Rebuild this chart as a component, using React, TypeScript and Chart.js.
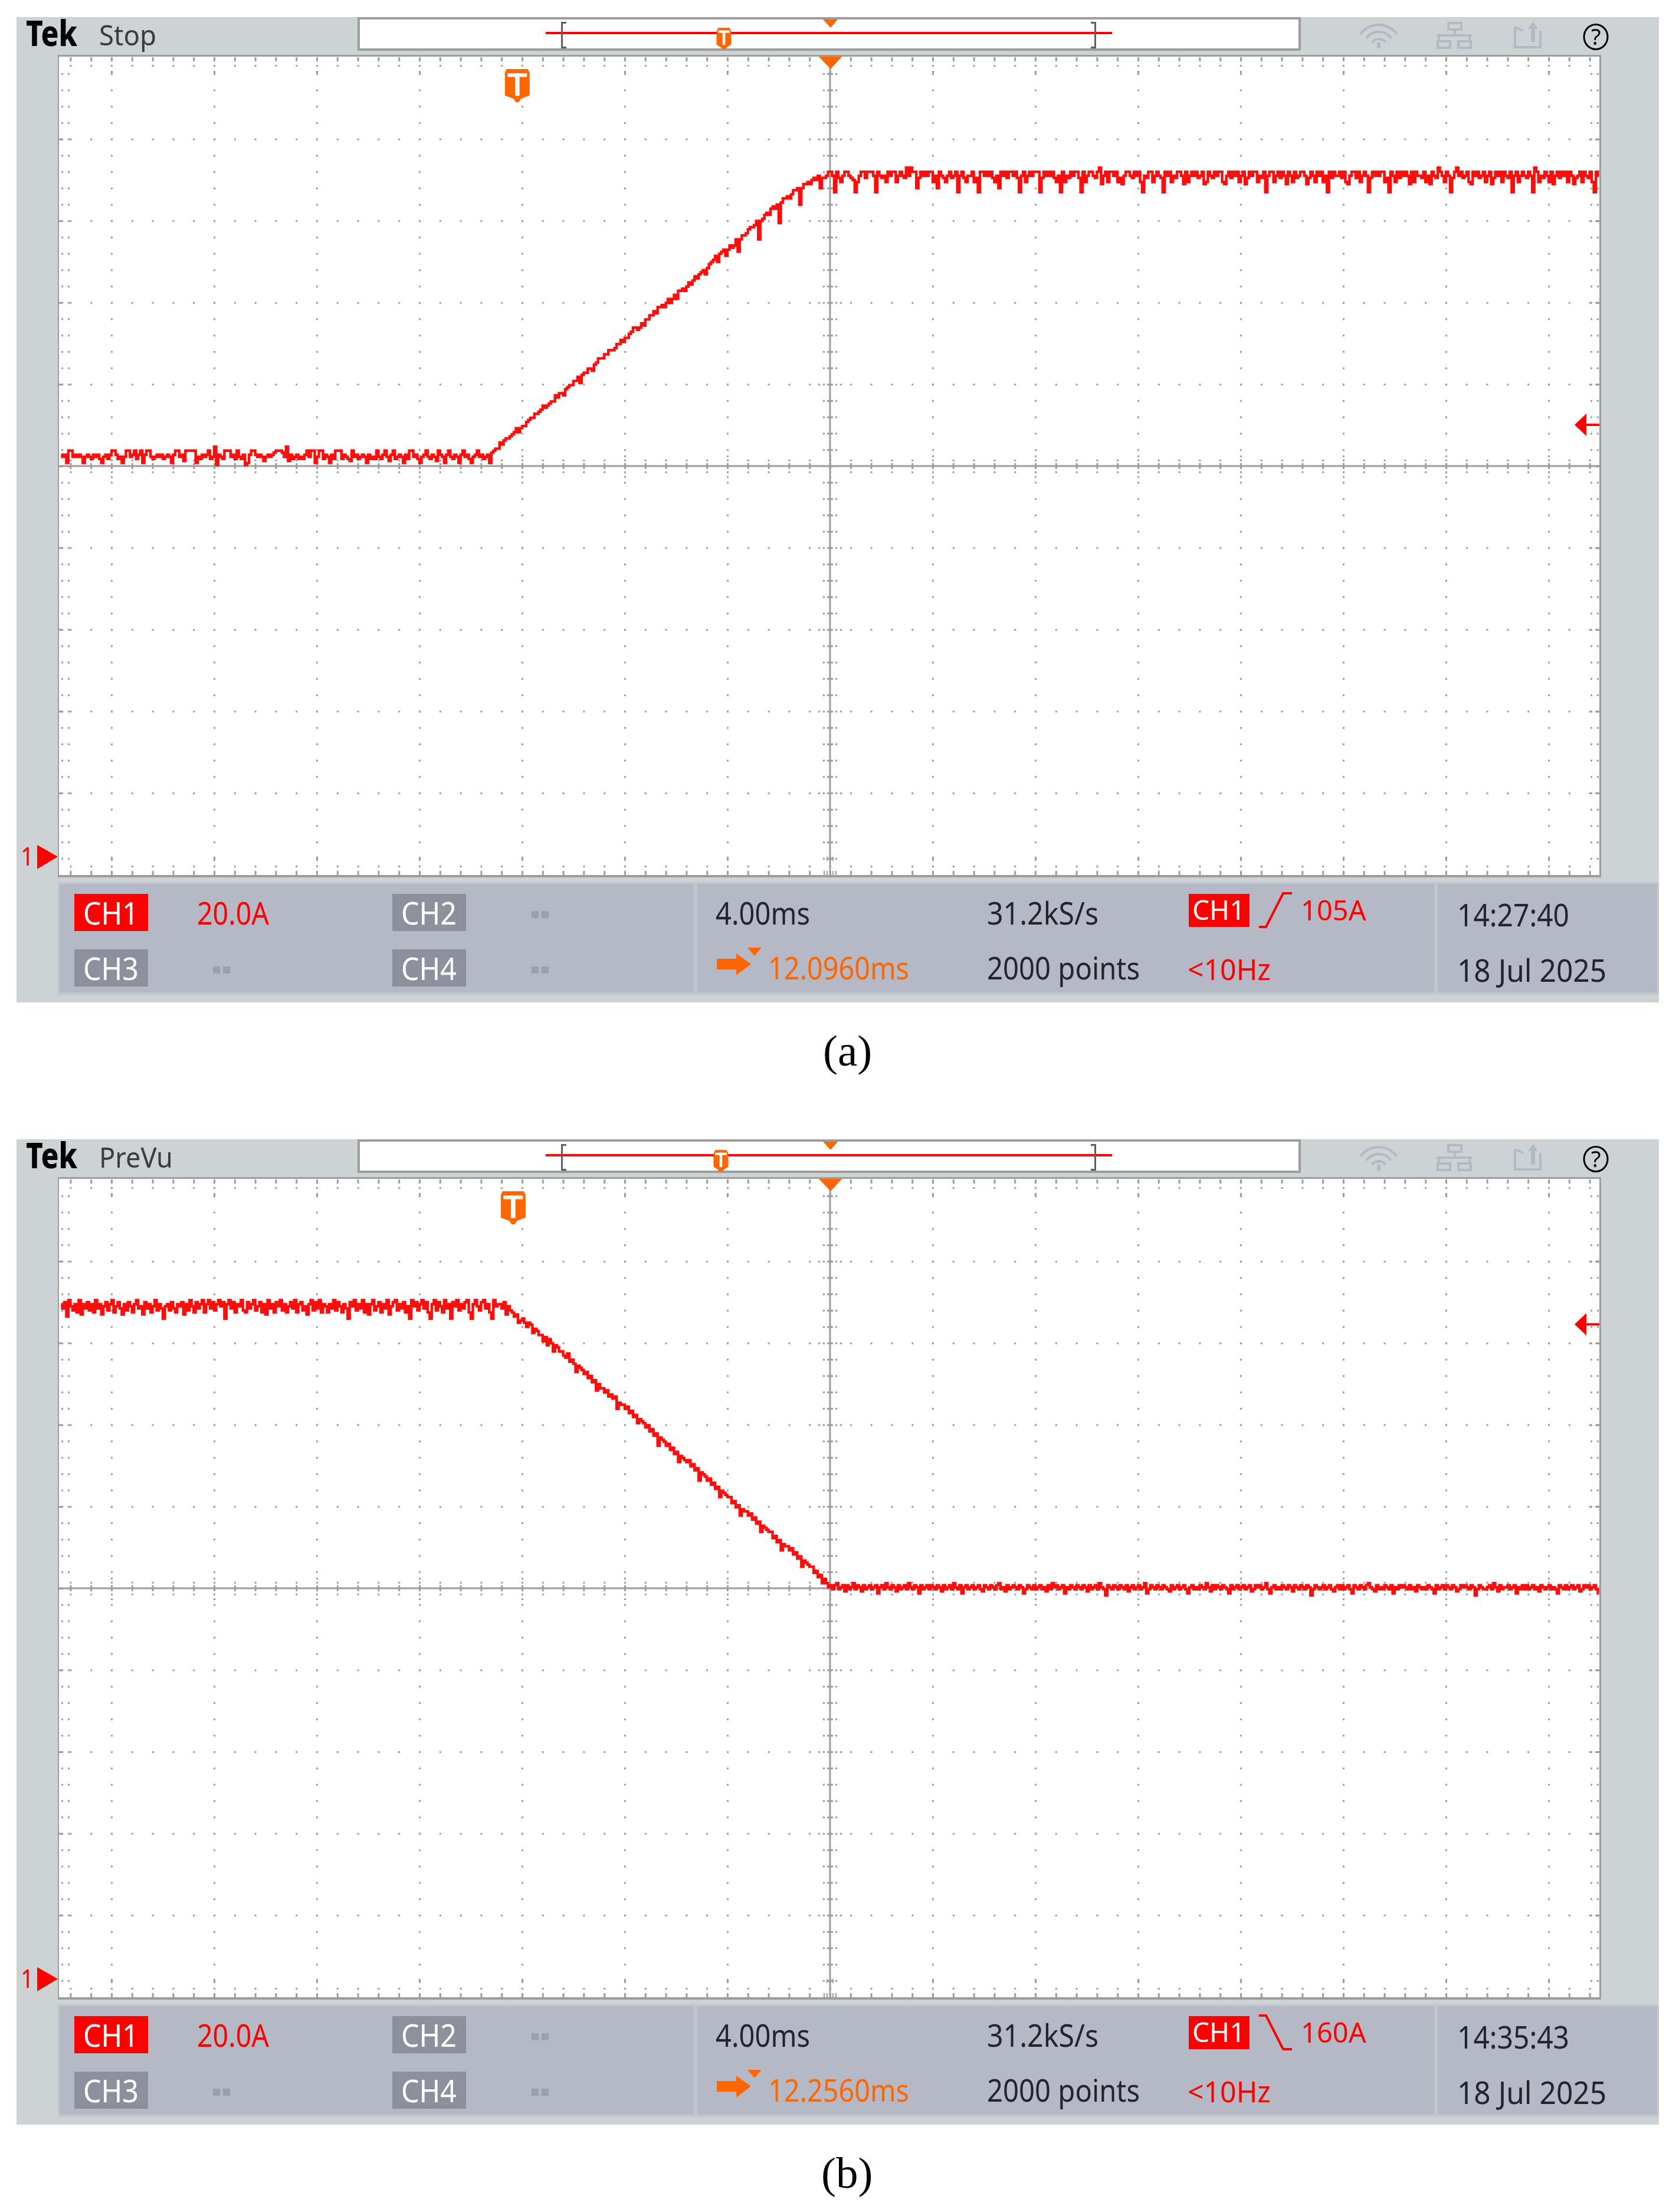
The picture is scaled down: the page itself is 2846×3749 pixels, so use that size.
import React, { useEffect, useRef } from "react";
import { Chart, registerables } from "chart.js";

Chart.register(...registerables);

// Trace values are screen rows of the scope: one row is 0.5 A, one column is 0.08 ms.
const ampsPerRow = 0.5;
const msPerColumn = 0.08;

const riseFlat = [
  196,195,196,192,198,198,195,196,195,196,
  195,192,195,196,195,194,196,195,196,194,
  192,195,196,194,196,198,198,196,194,195,
  192,195,198,198,195,196,198,194,196,198,
  192,196,198,198,195,194,195,196,195,196,
  194,195,196,195,192,196,198,198,195,196,
  193,198,198,198,198,198,192,195,194,196,
  195,196,198,194,195,200,191,196,195,194,
  198,198,198,195,196,194,198,195,194,196,
  191,192,196,198,198,196,195,196,195,193,
  195,196,195,196,197,198,198,198,197,195,
  200,193,196,194,195,196,194,195,194,196,
  198,195,198,198,192,195,198,198,194,196,
  195,192,196,194,198,198,198,194,196,195,
  194,193,198,195,196,194,195,196,195,192,
  196,194,195,194,198,195,194,196,198,195,
  193,196,198,194,195,196,195,192,196,194,
  198,198,195,196,194,192,195,196,198,195,
  194,196,195,193,198,196,195,192,196,198,
  195,194,196,195,192,196,198,195,196,194,
  192,195,196,198,195,196,194,195
];
const riseRamp = [
  196,192,197,198,199,199,202,201,203,204,
  204,205,206,207,209,207,209,210,210,212,
  213,214,214,216,216,217,218,220,219,220,
  221,222,222,225,224,226,226,225,228,229,
  230,230,232,232,234,231,235,236,236,238,
  238,237,240,241,243,243,243,245,245,247,
  247,247,248,250,250,252,251,253,253,255,
  256,258,258,257,258,260,259,262,262,264,
  264,266,265,268,268,269,268,270,272,270,
  272,274,272,276,276,277,276,278,280,279,
  281,283,282,284,285,286,284,287,289,290,
  291,293,290,294,295,296,293,296,298,297,
  298,301,295,301,303,303,304,306,307,307,
  308,310,301,310,311,313,314,313,316,317,
  316,318,309,319,321,321,322,321,323,325,
  325,326,318,326,328,328,329,328,330,331,
  330,332,326,331
];
const riseTop = [
  331,332,334,334,332,324,334,331,329,332,
  334,334,332,331,330,324,329,332,334,334,
  331,334,334,334,332,324,334,332,331,332,
  329,334,332,334,334,329,332,334,332,331,
  336,332,336,334,334,326,331,334,332,334,
  332,334,334,329,332,326,334,332,331,329,
  332,334,331,332,334,324,332,334,331,329,
  332,332,334,329,331,324,334,334,332,334,
  332,334,331,329,332,326,334,332,334,331,
  334,334,332,334,331,324,332,334,329,332,
  334,332,334,334,334,324,331,334,332,334,
  332,334,331,329,332,324,334,329,332,331,
  334,332,334,334,331,324,334,329,332,334,
  334,332,331,334,336,328,332,334,329,334,
  334,332,334,329,331,328,332,334,334,332,
  331,334,332,334,329,324,332,331,334,334,
  329,332,334,332,331,324,334,332,334,329,
  332,331,334,334,332,328,334,329,332,334,
  332,334,331,332,334,328,329,334,332,331,
  334,332,334,334,329,328,332,334,331,334,
  332,334,329,332,334,328,331,334,332,334,
  334,329,332,331,334,324,332,334,334,329,
  332,334,331,334,332,328,334,332,329,334,
  331,332,334,334,332,328,331,334,332,329,
  334,332,334,329,332,324,334,331,334,332,
  332,334,331,334,329,328,332,334,334,331,
  334,329,332,334,332,324,331,334,332,334,
  332,334,334,329,331,324,334,332,329,334,
  331,334,332,334,332,328,334,329,334,332,
  332,331,334,329,332,328,334,332,331,336,
  334,332,329,334,332,324,331,334,336,332,
  334,331,332,334,329,328,334,332,334,331,
  332,334,329,332,334,328,331,334,332,334,
  329,334,332,331,334,324,332,334,329,332,
  334,332,331,334,332,324,336,334,329,332,
  331,334,332,329,334,328,332,334,331,334,
  332,334,329,334,332,328,331,332,334,329,
  334,332,331,334,329,324,334,332
];

const fallTop = [
  329,327,330,323,331,328,326,329,325,331,
  324,329,327,330,326,329,325,331,327,329,
  324,328,330,326,329,331,325,328,330,327,
  324,329,326,330,328,325,329,331,327,328,
  324,330,327,329,325,328,331,326,329,327,
  322,328,329,326,330,327,325,329,328,330,
  324,329,326,331,328,325,330,327,329,331,
  325,329,331,327,330,326,329,331,328,330,
  322,329,331,327,330,325,329,328,331,326,
  325,330,327,329,331,326,328,330,325,329,
  324,331,327,329,325,330,328,331,326,329,
  325,328,330,327,331,325,329,330,326,328,
  324,329,331,326,330,327,331,325,329,328,
  325,329,327,331,326,330,328,325,329,327,
  322,330,328,331,326,329,327,331,325,329,
  324,329,331,326,328,330,325,329,327,331,
  324,328,330,331,326,329,327,330,325,328,
  322,331,328,330,326,329,331,327,330,325,
  322,329,331,326,330,328,325,331,327,329,
  322,330,328,331,326,329,327,330,331,325,
  322,329,331,328,326,330,331,327,329,325,
  322,331,328,329
];
const fallRamp = [
  329,327,330,324,328,326,325,323,324,320,
  321,322,320,318,320,319,315,317,316,314,
  314,311,313,309,312,310,306,309,308,306,
  306,304,303,305,301,302,300,296,299,298,
  297,295,296,293,294,291,292,287,290,288,
  288,286,287,284,285,283,284,278,281,280,
  280,278,279,276,277,274,275,271,273,272,
  271,269,270,267,268,265,266,260,264,263,
  262,260,261,258,259,256,257,252,255,254,
  253,252,253,250,251,248,249,243,247,246,
  245,243,244,241,242,239,240,235,238,237,
  236,235,235,232,233,230,231,226,229,228,
  228,226,227,224,225,222,223,218,221,220,
  219,218,218,215,216,213,214,209,212,211,
  211,209,210,207,208,205,206,201,204,203,
  202,201,201,198,199,196,197,193,195,193
];
const fallLow = [
  191,192,190,192,193,190,191,192,189,192,
  190,191,193,190,192,191,189,192,190,191,
  192,190,191,192,188,191,192,190,193,191,
  190,192,191,189,192,190,191,192,190,193,
  191,190,192,191,188,192,190,191,192,190,
  192,191,190,192,191,189,192,190,191,192,
  190,193,191,190,192,188,191,192,190,191,
  192,190,191,192,190,189,192,191,190,192,
  191,190,192,193,190,191,189,192,190,191,
  192,191,190,192,191,188,190,192,191,190,
  192,190,191,192,190,191,189,192,190,193,
  191,192,190,191,192,188,191,190,192,191,
  190,192,191,190,192,191,189,192,190,191,
  192,190,193,191,190,187,192,191,190,192,
  191,190,192,191,190,192,189,191,192,190,
  191,192,190,191,193,188,190,192,191,190,
  192,191,190,192,191,190,189,192,190,191,
  192,190,191,192,190,188,191,192,190,191,
  190,192,191,190,193,191,189,192,190,192,
  191,190,192,191,190,188,192,190,191,192,
  190,191,192,190,191,192,189,190,192,191,
  192,190,191,193,190,188,191,192,190,191,
  190,192,191,190,192,191,189,192,191,190,
  192,191,190,192,191,187,190,192,191,190,
  191,192,190,191,192,190,189,191,192,190,
  192,190,191,192,190,188,192,191,190,192,
  191,190,192,193,191,190,189,192,190,191,
  190,192,191,190,192,188,191,190,192,191,
  192,191,190,192,190,191,189,192,191,190,
  191,190,192,191,190,188,192,190,191,192,
  190,192,191,190,192,191,189,190,192,191,
  192,191,190,192,191,187,190,192,191,190,
  190,191,192,190,193,191,189,192,190,191,
  191,192,190,191,192,188,191,190,192,190,
  192,190,191,192,190,191,189,192,191,190,
  191,192,190,191,190,188,192,191,190,192,
  190,191,192,190,191,192,189,190,192,191,
  192,190,191,192,190,188
];

const riseTrace = [...riseFlat, ...riseRamp, ...riseTop];
const fallTrace = [...fallTop, ...fallRamp, ...fallLow];

// Acquisition readouts
const channelNames = ["CH1", "CH2", "CH3", "CH4"];
const scaleReadout = "20.0A";
const horizontalScale = "4.00ms";
const sampleRate = "31.2kS/s";
const recordLength = "2000 points";
const triggerFrequency = "<10Hz";
const brandLabel = "Tek";

const statusLabels = ["Stop", "PreVu"];
const delayLabels = ["12.0960ms", "12.2560ms"];
const delayValues = [12.096, 12.256];
const triggerLabels = ["105A", "160A"];
const triggerLevels = [105.3, 159.6];
const triggerRising = [true, false];
const timeLabels = ["14:27:40", "14:35:43"];
const dateLabels = ["18 Jul 2025", "18 Jul 2025"];
const captionLabels = ["(a)", "(b)"];
const traces = [riseTrace, fallTrace];

// Scope screen
const msPerDiv = 4;
const ampsPerDiv = 19.93;
const halfSpanMs = 30;
const centreAmps = 95.25;
const yMinAmps = -4.89;
const yMaxAmps = 195.5;

const GRID = "#9b9e9b";
const PANEL = "#cdd2d5";
const BAR = "#b5b9c6";
const BAR_EDGE = "#c3c6cd";
const RED = "#ff0000";
const ORANGE = "#ff6600";
const CHIP = "#8b909c";
const INK = "#24242c";
const ICON = "#b3b8c3";
const FONT = '"Noto Sans"';

function chrome(panel: number) {
  const box = (c: any, x: number, y: number, w: number, h: number, color: string) => {
    c.fillStyle = color;
    c.fillRect(x, y, w, h);
  };
  const text = (c: any, s: string, x: number, y: number, size: number, color: string, width?: number, weight = "400", family = FONT) => {
    c.font = `${weight} ${size}px ${family}`;
    c.fillStyle = color;
    c.textBaseline = "alphabetic";
    c.textAlign = "left";
    if (width) c.fillText(s, x, y, width);
    else c.fillText(s, x, y);
  };
  const poly = (c: any, pts: number[][], color: string) => {
    c.fillStyle = color;
    c.beginPath();
    pts.forEach((p, i) => (i ? c.lineTo(p[0], p[1]) : c.moveTo(p[0], p[1])));
    c.closePath();
    c.fill();
  };
  const tMark = (c: any, cx: number, y0: number, w: number, h: number) => {
    const hw = w / 2;
    poly(c, [[cx - hw + 3, y0], [cx + hw - 3, y0], [cx + hw, y0 + 6], [cx + hw, y0 + h * 0.8], [cx + 6, y0 + h * 0.9], [cx + 3, y0 + h], [cx - 3, y0 + h], [cx - 6, y0 + h * 0.9], [cx - hw, y0 + h * 0.8], [cx - hw, y0 + 6]], ORANGE);
    box(c, cx - hw * 0.78, y0 + h * 0.13, hw * 1.56, h * 0.11, "#ffffff");
    box(c, cx - hw * 0.18, y0 + h * 0.13, hw * 0.36, h * 0.68, "#ffffff");
  };

  return {
    id: "scopeChrome",
    beforeDatasetsDraw(chart: any) {
      const c = chart.ctx;
      const xs = chart.scales.x;
      const ys = chart.scales.y;
      c.save();
      // Instrument body
      box(c, 28, 29, 2784, 1670, PANEL);
      box(c, 98, 93, 2616, 1394, GRID);
      box(c, 100, 96, 2611, 1387, "#ffffff");

      // Graticule, placed through the scales
      const cx = xs.getPixelForValue(delayValues[panel]);
      const cy = ys.getPixelForValue(centreAmps);
      const divX = xs.getPixelForValue(delayValues[panel] + msPerDiv) - cx;
      const divY = ys.getPixelForValue(centreAmps - ampsPerDiv) - cy;
      const subX = divX / 5;
      const subY = divY / 5;

      for (let i = -37; i <= 37; i++) {
        const x = cx + i * subX;
        if (x < 101 || x > 2710) continue;
        box(c, x - 1, 97, 3, 7, GRID);
        box(c, x - 1, 110, 3, 3, GRID);
        box(c, x - 1, 1467, 3, 3, GRID);
        box(c, x - 1, 1476, 3, 7, GRID);
        box(c, x - 1, cy - 11, 3, 3, GRID);
        box(c, x - 1, cy + 9, 3, 3, GRID);
        box(c, x - 1, cy - 5, 3, 10, GRID);
        for (let k = -4; k <= 4; k++) {
          if (k !== 0) box(c, x - 1, cy + k * divY - 1, 3, 3, GRID);
        }
      }
      for (let i = -7; i <= 7; i++) {
        const x = cx + i * divX;
        for (let j = -23; j <= 23; j++) box(c, x - 1, cy + j * subY - 1, 3, 3, GRID);
        box(c, x - 1, cy - 18, 3, 3, GRID);
        box(c, x - 1, cy + 17, 3, 3, GRID);
        box(c, x - 1, 120, 3, 7, GRID);
        box(c, x - 1, 1452, 3, 7, GRID);
      }
      for (let j = -24; j <= 24; j++) {
        const y = cy + j * subY;
        for (const x of [104, 115, 2696, 2707]) box(c, x, y - 1, 3, 3, GRID);
        box(c, cx - 12, y - 1, 3, 3, GRID);
        box(c, cx + 9, y - 1, 3, 3, GRID);
        box(c, cx - 5, y - 1, 10, 3, GRID);
      }
      for (let k = -4; k <= 4; k++) {
        const y = cy + k * divY;
        box(c, 100, y - 1, 7, 3, GRID);
        box(c, 2704, y - 1, 7, 3, GRID);
        if (k !== 0) {
          box(c, cx - 20, y - 1, 3, 3, GRID);
          box(c, cx + 17, y - 1, 3, 3, GRID);
        }
      }
      box(c, 100, cy - 1.5, 2611, 3, GRID);
      box(c, cx - 1.5, 96, 3, 1387, GRID);
      for (const d of [-10, -5, 5, 10]) box(c, cx + d - 1, 1476, 2, 7, GRID);
      for (const d of [-5, 5]) box(c, cx + d - 1, 1452, 2, 7, GRID);

      // Readout bars
      for (const [x0, x1] of [[98, 1179], [1179, 2434], [2434, 2812]]) {
        box(c, x0, 1495, x1 - x0, 191, BAR_EDGE);
        box(c, x0 + 3, 1498, x1 - x0 - 6, 184, BAR);
      }
      box(c, 126, 1515, 125, 63, RED);
      box(c, 665, 1515, 125, 63, CHIP);
      box(c, 126, 1609, 125, 63, CHIP);
      box(c, 665, 1609, 125, 63, CHIP);
      const chipX = [141, 680, 141, 680];
      const chipY = [1567, 1567, 1661, 1661];
      channelNames.forEach((n, i) => text(c, n, chipX[i], chipY[i], 52, "#ffffff", 94));
      text(c, scaleReadout, 334, 1567, 52, RED, 122);
      for (const [x, y] of [[901, 1544], [361, 1638], [901, 1638]]) {
        box(c, x, y, 12, 12, "#9b9eab");
        box(c, x + 17, y, 12, 12, "#9b9eab");
      }
      text(c, horizontalScale, 1213, 1567, 52, INK, 160);
      text(c, sampleRate, 1673, 1567, 52, INK, 189);
      text(c, recordLength, 1673, 1660, 52, INK, 259);
      text(c, delayLabels[panel], 1302, 1660, 52, ORANGE, 239);
      poly(c, [[1215, 1625], [1248, 1625], [1248, 1616], [1273, 1634], [1248, 1653], [1248, 1643], [1215, 1643]], ORANGE);
      poly(c, [[1267, 1606], [1291, 1606], [1279, 1620]], ORANGE);
      box(c, 2015, 1515, 103, 56, RED);
      text(c, channelNames[0], 2021, 1559, 46, "#ffffff", 90);
      c.strokeStyle = RED;
      c.lineWidth = 4;
      c.beginPath();
      if (triggerRising[panel]) {
        c.moveTo(2134, 1571);
        c.lineTo(2146, 1571);
        c.lineTo(2175, 1514);
        c.lineTo(2190, 1514);
      } else {
        c.moveTo(2134, 1514);
        c.lineTo(2146, 1514);
        c.lineTo(2175, 1571);
        c.lineTo(2190, 1571);
      }
      c.stroke();
      text(c, triggerLabels[panel], 2205, 1560, 47, RED, 112);
      text(c, triggerFrequency, 2013, 1661, 50, RED, 141);
      text(c, timeLabels[panel], 2470, 1570, 52, INK, 190);
      text(c, dateLabels[panel], 2470, 1664, 52, INK, 253);

      // Header
      text(c, brandLabel, 44, 78, 60, "#000000", 87, "800");
      text(c, statusLabels[panel], 168, 77, 48, "#3a3a40", panel === 0 ? 97 : 125);
      box(c, 606, 29, 1599, 57, "#9c9e9c");
      box(c, 610, 33, 1591, 49, "#ffffff");
      box(c, 925, 54, 960, 4, RED);
      box(c, 951, 37, 3, 45, "#5a6068");
      box(c, 951, 37, 9, 3, "#5a6068");
      box(c, 951, 79, 9, 3, "#5a6068");
      box(c, 1855, 37, 3, 45, "#5a6068");
      box(c, 1849, 37, 9, 3, "#5a6068");
      box(c, 1849, 79, 9, 3, "#5a6068");
      poly(c, [[1395, 33], [1420, 33], [1408, 47]], ORANGE);
      poly(c, [[1388, 96], [1427, 96], [1408, 117]], ORANGE);
      tMark(c, panel === 0 ? 1227 : 1222, 47, 25, 36);

      // Status icons
      c.strokeStyle = ICON;
      c.lineWidth = 4;
      for (const r of [14, 26, 38]) {
        c.beginPath();
        c.arc(2337, 80, r, Math.PI * 1.2, Math.PI * 1.8);
        c.stroke();
      }
      box(c, 2334, 72, 6, 10, ICON);
      c.strokeRect(2455, 39, 22, 11);
      box(c, 2464, 50, 4, 10, ICON);
      box(c, 2435, 58, 60, 4, ICON);
      box(c, 2437, 60, 4, 10, ICON);
      box(c, 2489, 60, 4, 10, ICON);
      c.strokeRect(2437, 70, 21, 11);
      c.strokeRect(2472, 70, 21, 11);
      c.beginPath();
      c.moveTo(2568, 46);
      c.lineTo(2568, 80);
      c.lineTo(2611, 80);
      c.lineTo(2611, 52);
      c.moveTo(2568, 46);
      c.lineTo(2582, 52);
      c.stroke();
      box(c, 2595, 44, 7, 27, ICON);
      poly(c, [[2598.5, 37], [2607, 49], [2590, 49]], ICON);
      c.strokeStyle = "#000000";
      c.lineWidth = 3;
      c.beginPath();
      c.ellipse(2705, 62.5, 20, 21, 0, 0, Math.PI * 2);
      c.stroke();
      text(c, "?", 2697, 76, 38, "#000000");

      text(c, captionLabels[panel], panel === 0 ? 1395 : 1392, 1806, 75, "#000000", undefined, "400", '"Liberation Serif"');
      c.restore();
    },
    afterDatasetsDraw(chart: any) {
      const c = chart.ctx;
      const xs = chart.scales.x;
      const ys = chart.scales.y;
      c.save();
      tMark(c, xs.getPixelForValue(0) - 4, 117, 42, 56);
      const ty = ys.getPixelForValue(triggerLevels[panel]);
      box(c, 2689, ty - 2, 22, 4, RED);
      poly(c, [[2669, ty], [2689, ty - 19], [2689, ty + 19]], RED);
      const gy = ys.getPixelForValue(0);
      poly(c, [[63, gy - 20], [98, gy], [63, gy + 21]], RED);
      text(c, "1", 35, gy + 15, 44, RED, 22);
      c.restore();
    },
  };
}

function Scope({ panel }: { panel: number }) {
  const ref = useRef<HTMLCanvasElement>(null);
  useEffect(() => {
    const delay = delayValues[panel];
    const start = delay - halfSpanMs;
    const chart = new Chart(ref.current as HTMLCanvasElement, {
      type: "line",
      data: {
        datasets: [
          {
            label: "CH1",
            data: traces[panel].map((row, i) => ({ x: start + (i + 0.5) * msPerColumn, y: row * ampsPerRow })),
            borderColor: "#ff0d0d",
            borderWidth: 4.4,
            stepped: "middle",
            pointRadius: 0,
            borderCapStyle: "butt",
            borderJoinStyle: "miter",
          },
        ],
      },
      options: {
        responsive: false,
        animation: false,
        devicePixelRatio: 1,
        layout: { padding: { left: 102, right: 134, top: 93, bottom: 361 } },
        plugins: { legend: { display: false }, tooltip: { enabled: false } },
        events: [],
        scales: {
          x: { type: "linear", display: false, min: delay - halfSpanMs, max: delay + halfSpanMs },
          y: { type: "linear", display: false, min: yMinAmps, max: yMaxAmps },
        },
      },
      plugins: [chrome(panel)],
    } as any);
    return () => chart.destroy();
  }, [panel]);
  return (
    <canvas
      ref={ref}
      width={2846}
      height={1847}
      style={{ position: "absolute", left: 0, top: panel === 0 ? 0 : 1902, width: 2846, height: 1847, display: "block" }}
    />
  );
}

export default function App() {
  return (
    <div style={{ position: "absolute", left: 0, top: 0, width: 2846, height: 3749, background: "#ffffff", overflow: "hidden" }}>
      <Scope panel={0} />
      <Scope panel={1} />
    </div>
  );
}
